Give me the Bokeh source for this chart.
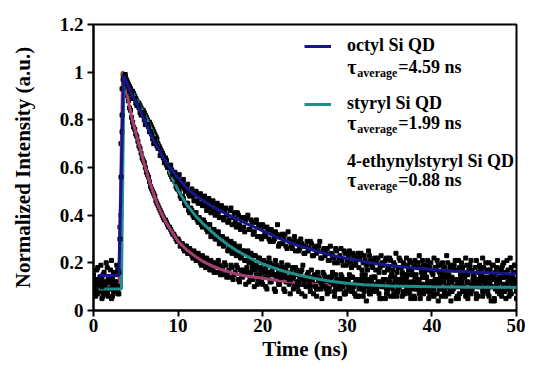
import numpy as np
from bokeh.plotting import figure
from bokeh.models import Range1d, FixedTicker, CustomJSTickFormatter, Legend, LegendItem, Label
from bokeh.embed import file_html
from bokeh.resources import INLINE

# ---------------- data ----------------
time_a = np.linspace(0, 50, 201)        # sampling grid, 0.25 ns
time_b = np.linspace(0.125, 49.875, 200)  # interleaved samples

octyl_data_a = [
    0.15, 0.12, 0.18, 0.14, 0.10, 0.16, 0.20, 0.13, 0.17, 0.11, 0.15, 0.19,
    0.16, 0.56, 0.97, 0.99, 0.95, 0.92, 0.91, 0.89, 0.87, 0.86, 0.83, 0.83,
    0.80, 0.78, 0.77, 0.75, 0.72, 0.72, 0.69, 0.68, 0.66, 0.64, 0.64, 0.61,
    0.60, 0.59, 0.57, 0.56, 0.56, 0.53, 0.54, 0.51, 0.52, 0.49, 0.50, 0.48,
    0.49, 0.46, 0.48, 0.45, 0.47, 0.44, 0.46, 0.43, 0.45, 0.42, 0.44, 0.41,
    0.43, 0.39, 0.42, 0.40, 0.38, 0.43, 0.39, 0.37, 0.41, 0.36, 0.39, 0.35,
    0.38, 0.40, 0.34, 0.37, 0.33, 0.38, 0.35, 0.31, 0.36, 0.32, 0.35, 0.30,
    0.34, 0.29, 0.33, 0.36, 0.28, 0.32, 0.30, 0.27, 0.33, 0.29, 0.26, 0.31,
    0.28, 0.25, 0.30, 0.27, 0.24, 0.29, 0.26, 0.28, 0.23, 0.27, 0.25, 0.29,
    0.22, 0.26, 0.24, 0.21, 0.27, 0.23, 0.20, 0.25, 0.22, 0.26, 0.19, 0.24,
    0.21, 0.25, 0.18, 0.23, 0.20, 0.24, 0.22, 0.17, 0.23, 0.19, 0.25, 0.21,
    0.18, 0.22, 0.20, 0.16, 0.23, 0.19, 0.21, 0.17, 0.22, 0.15, 0.20, 0.24,
    0.18, 0.21, 0.16, 0.19, 0.22, 0.17, 0.20, 0.15, 0.21, 0.18, 0.23, 0.16,
    0.19, 0.14, 0.21, 0.18, 0.16, 0.22, 0.17, 0.19, 0.14, 0.20, 0.18, 0.23,
    0.15, 0.19, 0.17, 0.21, 0.13, 0.18, 0.20, 0.16, 0.22, 0.15, 0.19, 0.17,
    0.14, 0.21, 0.16, 0.18, 0.22, 0.13, 0.17, 0.20, 0.15, 0.19, 0.16, 0.21,
    0.14, 0.18, 0.20, 0.15, 0.17, 0.22, 0.14, 0.19, 0.16,
]
octyl_data_b = [
    0.13, 0.17, 0.11, 0.19, 0.15, 0.12, 0.18, 0.14, 0.21, 0.16,
    0.12, 0.17, 0.30, 0.82, 0.98, 0.96, 0.94, 0.93, 0.89, 0.89,
    0.86, 0.85, 0.82, 0.82, 0.78, 0.78, 0.75, 0.74, 0.70, 0.70,
    0.68, 0.65, 0.66, 0.62, 0.63, 0.60, 0.61, 0.57, 0.58, 0.54,
    0.57, 0.52, 0.55, 0.50, 0.53, 0.48, 0.51, 0.46, 0.50, 0.45,
    0.49, 0.44, 0.48, 0.42, 0.47, 0.41, 0.46, 0.40, 0.45, 0.39,
    0.44, 0.38, 0.43, 0.37, 0.42, 0.36, 0.41, 0.35, 0.40, 0.34,
    0.39, 0.33, 0.39, 0.34, 0.38, 0.32, 0.37, 0.31, 0.36, 0.30,
    0.35, 0.31, 0.34, 0.29, 0.33, 0.30, 0.32, 0.27, 0.31, 0.28,
    0.32, 0.26, 0.30, 0.27, 0.29, 0.25, 0.29, 0.26, 0.28, 0.24,
    0.27, 0.25, 0.29, 0.23, 0.26, 0.24, 0.27, 0.22, 0.25, 0.23,
    0.26, 0.21, 0.24, 0.22, 0.26, 0.20, 0.23, 0.21, 0.25, 0.19,
    0.23, 0.20, 0.24, 0.19, 0.22, 0.18, 0.24, 0.20, 0.21, 0.17,
    0.23, 0.19, 0.21, 0.17, 0.22, 0.18, 0.20, 0.16, 0.22, 0.18,
    0.21, 0.17, 0.19, 0.16, 0.22, 0.18, 0.20, 0.15, 0.19, 0.21,
    0.17, 0.19, 0.15, 0.20, 0.18, 0.21, 0.16, 0.19, 0.17, 0.20,
    0.15, 0.18, 0.21, 0.16, 0.19, 0.17, 0.15, 0.20, 0.18, 0.14,
    0.19, 0.17, 0.21, 0.15, 0.18, 0.14, 0.19, 0.17, 0.21, 0.15,
    0.18, 0.13, 0.19, 0.16, 0.18, 0.20, 0.14, 0.17, 0.19, 0.15,
    0.18, 0.13, 0.17, 0.19, 0.16, 0.21, 0.14, 0.18, 0.16, 0.19,
]

styryl_data_a = [
    0.09, 0.06, 0.12, 0.08, 0.05, 0.11, 0.07, 0.13, 0.09, 0.06, 0.10, 0.08,
    0.07, 0.40, 0.93, 0.98, 0.96, 0.94, 0.92, 0.91, 0.89, 0.87, 0.86, 0.84,
    0.83, 0.81, 0.79, 0.78, 0.76, 0.74, 0.72, 0.69, 0.67, 0.65, 0.63, 0.60,
    0.58, 0.56, 0.55, 0.52, 0.51, 0.48, 0.48, 0.45, 0.45, 0.42, 0.43, 0.40,
    0.41, 0.38, 0.39, 0.36, 0.38, 0.35, 0.33, 0.36, 0.32, 0.34, 0.30, 0.33,
    0.29, 0.31, 0.28, 0.30, 0.26, 0.29, 0.25, 0.27, 0.24, 0.27, 0.23, 0.25,
    0.21, 0.25, 0.22, 0.20, 0.23, 0.19, 0.22, 0.18, 0.21, 0.17, 0.20, 0.22,
    0.16, 0.19, 0.21, 0.15, 0.18, 0.20, 0.14, 0.17, 0.19, 0.13, 0.18, 0.15,
    0.17, 0.12, 0.16, 0.19, 0.13, 0.15, 0.11, 0.17, 0.14, 0.10, 0.16, 0.13,
    0.11, 0.15, 0.09, 0.14, 0.12, 0.16, 0.08, 0.13, 0.11, 0.15, 0.10, 0.07,
    0.13, 0.09, 0.14, 0.11, 0.06, 0.12, 0.10, 0.15, 0.08, 0.11, 0.13, 0.07,
    0.10, 0.14, 0.09, 0.12, 0.05, 0.11, 0.13, 0.08, 0.10, 0.15, 0.07, 0.12,
    0.09, 0.13, 0.06, 0.11, 0.14, 0.08, 0.10, 0.12, 0.05, 0.09, 0.13, 0.11,
    0.07, 0.14, 0.10, 0.08, 0.12, 0.06, 0.11, 0.13, 0.09, 0.15, 0.07, 0.10,
    0.12, 0.04, 0.09, 0.13, 0.11, 0.07, 0.14, 0.10, 0.06, 0.12, 0.09, 0.11,
    0.13, 0.05, 0.10, 0.14, 0.08, 0.11, 0.12, 0.06, 0.10, 0.13, 0.09, 0.11,
    0.07, 0.14, 0.10, 0.05, 0.12, 0.09, 0.11, 0.13, 0.08,
]
styryl_data_b = [
    0.11, 0.07, 0.09, 0.13, 0.06, 0.10, 0.08, 0.12, 0.05, 0.09,
    0.11, 0.07, 0.10, 0.75, 0.97, 0.97, 0.95, 0.93, 0.92, 0.90,
    0.88, 0.87, 0.85, 0.84, 0.82, 0.80, 0.79, 0.77, 0.75, 0.73,
    0.70, 0.68, 0.66, 0.64, 0.61, 0.60, 0.57, 0.55, 0.54, 0.51,
    0.50, 0.47, 0.47, 0.44, 0.45, 0.41, 0.42, 0.39, 0.41, 0.37,
    0.38, 0.35, 0.37, 0.34, 0.36, 0.31, 0.34, 0.30, 0.32, 0.28,
    0.31, 0.27, 0.29, 0.25, 0.28, 0.24, 0.28, 0.23, 0.26, 0.22,
    0.25, 0.21, 0.24, 0.20, 0.24, 0.19, 0.23, 0.18, 0.22, 0.17,
    0.21, 0.18, 0.16, 0.20, 0.17, 0.15, 0.19, 0.16, 0.14, 0.18,
    0.15, 0.19, 0.13, 0.16, 0.14, 0.18, 0.12, 0.15, 0.17, 0.11,
    0.14, 0.16, 0.10, 0.13, 0.15, 0.09, 0.14, 0.12, 0.16, 0.10,
    0.13, 0.08, 0.14, 0.11, 0.15, 0.09, 0.12, 0.14, 0.07, 0.12,
    0.10, 0.14, 0.08, 0.11, 0.13, 0.06, 0.12, 0.09, 0.15, 0.10,
    0.07, 0.12, 0.14, 0.08, 0.11, 0.05, 0.10, 0.13, 0.09, 0.12,
    0.06, 0.11, 0.14, 0.08, 0.10, 0.12, 0.07, 0.13, 0.09, 0.11,
    0.15, 0.06, 0.10, 0.12, 0.08, 0.14, 0.09, 0.11, 0.05, 0.12,
    0.10, 0.13, 0.07, 0.11, 0.09, 0.14, 0.06, 0.10, 0.12, 0.08,
    0.13, 0.10, 0.05, 0.11, 0.14, 0.08, 0.12, 0.09, 0.07, 0.13,
    0.11, 0.06, 0.10, 0.15, 0.08, 0.12, 0.09, 0.11, 0.13, 0.04,
    0.10, 0.12, 0.08, 0.14, 0.09, 0.11, 0.06, 0.13, 0.10, 0.12,
]

ethynyl_data_a = [
    0.10, 0.13, 0.07, 0.11, 0.14, 0.08, 0.12, 0.06, 0.10, 0.13, 0.09, 0.11,
    0.12, 0.70, 0.99, 0.95, 0.90, 0.85, 0.81, 0.77, 0.74, 0.71, 0.68, 0.64,
    0.62, 0.58, 0.56, 0.52, 0.50, 0.48, 0.45, 0.43, 0.41, 0.39, 0.38, 0.36,
    0.35, 0.33, 0.32, 0.30, 0.30, 0.27, 0.28, 0.25, 0.27, 0.24, 0.25, 0.22,
    0.24, 0.21, 0.23, 0.19, 0.22, 0.18, 0.21, 0.17, 0.20, 0.16, 0.19, 0.21,
    0.15, 0.18, 0.20, 0.14, 0.17, 0.19, 0.13, 0.16, 0.18, 0.12, 0.15, 0.17,
    0.11, 0.16, 0.14, 0.18, 0.10, 0.15, 0.13, 0.17, 0.11, 0.14, 0.09, 0.16,
    0.12, 0.15, 0.08, 0.13, 0.11, 0.16, 0.09, 0.12, 0.14, 0.07, 0.12, 0.10,
    0.15, 0.08, 0.11, 0.13, 0.06,
    0.12, 0.10, 0.14, 0.07, 0.11, 0.09, 0.13, 0.05, 0.10, 0.12,
    0.08, 0.14, 0.11, 0.06, 0.10, 0.13, 0.09, 0.12, 0.07, 0.11,
    0.15, 0.08, 0.10, 0.12, 0.06, 0.11, 0.09, 0.13, 0.04, 0.10,
    0.12, 0.08, 0.14, 0.10, 0.07, 0.11, 0.13, 0.05, 0.09, 0.12,
    0.10, 0.06, 0.13, 0.08, 0.11, 0.15, 0.07, 0.10, 0.12, 0.05,
    0.09, 0.13, 0.11, 0.07, 0.10, 0.14, 0.08, 0.12, 0.06, 0.11,
    0.09, 0.13, 0.04, 0.10, 0.12, 0.08, 0.14, 0.07, 0.11, 0.09,
    0.13, 0.06, 0.10, 0.12, 0.08, 0.15, 0.05, 0.11, 0.09, 0.13,
    0.07, 0.10, 0.12, 0.06, 0.14, 0.09, 0.11, 0.04, 0.10, 0.13,
    0.08, 0.12, 0.06, 0.11, 0.14, 0.09, 0.07, 0.12, 0.10, 0.05,
]
ethynyl_data_b = [
    0.08, 0.12, 0.10, 0.14, 0.09, 0.11, 0.07, 0.13, 0.10, 0.08,
    0.12, 0.09, 0.35, 0.93, 0.97, 0.93, 0.88, 0.84, 0.79, 0.76,
    0.73, 0.69, 0.66, 0.63, 0.60, 0.57, 0.54, 0.51, 0.49, 0.46,
    0.44, 0.42, 0.40, 0.38, 0.37, 0.35, 0.34, 0.32, 0.31, 0.29,
    0.29, 0.28, 0.26, 0.27, 0.24, 0.26, 0.23, 0.25, 0.21, 0.24,
    0.20, 0.23, 0.19, 0.22, 0.18, 0.21, 0.17, 0.20, 0.16, 0.19,
    0.17, 0.15, 0.19, 0.16, 0.14, 0.18, 0.15, 0.19, 0.13, 0.17,
    0.14, 0.16, 0.18, 0.12, 0.16, 0.13, 0.17, 0.11, 0.15, 0.12,
    0.16, 0.10, 0.14, 0.12, 0.15, 0.09, 0.14, 0.11, 0.13, 0.15,
    0.08, 0.13, 0.11, 0.14, 0.09, 0.12, 0.10, 0.14, 0.07, 0.12,
    0.10, 0.13, 0.08, 0.11, 0.14, 0.06, 0.12, 0.09, 0.11, 0.13,
    0.07, 0.10, 0.12, 0.15, 0.09, 0.11, 0.05, 0.10, 0.13, 0.08,
    0.12, 0.10, 0.14, 0.07, 0.11, 0.09, 0.13, 0.06, 0.12, 0.10,
    0.08, 0.14, 0.11, 0.09, 0.12, 0.05, 0.10, 0.13, 0.07, 0.11,
    0.14, 0.09, 0.12, 0.06, 0.10, 0.13, 0.08, 0.11, 0.15, 0.07,
    0.10, 0.12, 0.09, 0.13, 0.05, 0.11, 0.08, 0.14, 0.10, 0.12,
    0.07, 0.11, 0.13, 0.09, 0.06, 0.12, 0.10, 0.14, 0.08, 0.11,
    0.13, 0.05, 0.10, 0.12, 0.09, 0.15, 0.07, 0.11, 0.08, 0.13,
    0.10, 0.06, 0.12, 0.14, 0.09, 0.11, 0.07, 0.13, 0.10, 0.05,
    0.12, 0.09, 0.11, 0.14, 0.08, 0.10, 0.13, 0.07, 0.11, 0.12,
]

octyl_fit_t = [0.6, 3.0, 3.55, 4.0, 4.5, 5.0, 5.5, 6.0, 7.0, 8.0, 9.0, 10.0, 11.0,
               12.0, 13.0, 14.0, 15.0, 16.0, 17.0, 18.0, 19.0, 20.0, 22.0, 24.0,
               26.0, 28.0, 30.0, 32.0, 34.0, 36.0, 38.0, 40.0, 42.5, 45.0, 47.5, 50.0]
octyl_fit_y = [0.147, 0.147, 0.985, 0.95, 0.91, 0.875, 0.84, 0.80, 0.72, 0.655, 0.60,
               0.555, 0.515, 0.485, 0.46, 0.438, 0.418, 0.40, 0.383, 0.366, 0.35,
               0.334, 0.302, 0.275, 0.253, 0.233, 0.218, 0.205, 0.194, 0.185,
               0.178, 0.172, 0.166, 0.161, 0.157, 0.153]

styryl_fit_t = [0.6, 3.3, 3.6, 4.0, 5.0, 6.0, 7.0, 8.0, 9.0, 10.0, 11.0, 12.0, 13.0,
                14.0, 15.0, 16.0, 17.0, 18.0, 19.0, 20.0, 22.0, 24.0, 26.0, 28.0,
                30.0, 32.0, 35.0, 40.0, 45.0, 50.0]
styryl_fit_y = [0.09, 0.09, 0.98, 0.955, 0.89, 0.825, 0.75, 0.665, 0.58, 0.505, 0.445,
                0.40, 0.362, 0.33, 0.30, 0.273, 0.25, 0.23, 0.211, 0.195, 0.17,
                0.151, 0.135, 0.123, 0.114, 0.108, 0.103, 0.10, 0.098, 0.097]

ethynyl_fit_t = [0.6, 3.0, 3.45, 4.0, 4.5, 5.0, 5.5, 6.0, 6.5, 7.0, 7.5, 8.0, 8.5, 9.0,
                 10.0, 11.0, 12.0, 13.0, 14.0, 15.0, 16.0, 17.0, 18.0, 20.0, 22.0,
                 24.0, 26.0, 28.0, 30.0, 35.0, 40.0, 50.0]
ethynyl_fit_y = [0.10, 0.10, 1.005, 0.90, 0.815, 0.745, 0.68, 0.615, 0.555, 0.50, 0.45,
                 0.41, 0.375, 0.345, 0.29, 0.255, 0.228, 0.205, 0.187, 0.173, 0.162,
                 0.152, 0.145, 0.135, 0.125, 0.117, 0.111, 0.108, 0.106, 0.104,
                 0.103, 0.102]

series_names = ["octyl Si QD", "styryl Si QD", "4-ethynylstyryl Si QD"]
tau_values = ["=4.59 ns", "=1.99 ns", "=0.88 ns"]
x_ticks = [0, 10, 20, 30, 40, 50]
y_ticks = [0, 0.2, 0.4, 0.6, 0.8, 1.0, 1.2]

# ---------------- styling ----------------
FONT = "Liberation Serif"
NAVY = "#16168a"
TEAL = "#1f8e8c"
PINK = "#a63e72"
DARKRED = "#8a1010"
DOT = 4

p = figure(width=525, height=363, x_range=Range1d(0, 50), y_range=Range1d(0, 1.2),
           output_backend="svg", toolbar_location=None,
           min_border_left=93, min_border_right=9, min_border_top=24, min_border_bottom=50)
p.background_fill_color = "white"
p.border_fill_color = "white"
p.outline_line_color = "black"
p.outline_line_width = 2
p.xgrid.visible = False
p.ygrid.visible = False

for ax in (p.xaxis[0], p.yaxis[0]):
    ax.axis_line_width = 2
    ax.major_tick_line_width = 2
    ax.major_tick_out = 6
    ax.major_tick_in = 0
    ax.minor_tick_out = 0
    ax.minor_tick_in = 0
    ax.major_label_text_font = FONT
    ax.major_label_text_font_style = "bold"
    ax.major_label_text_font_size = "19px"
    ax.major_label_text_color = "black"
    ax.axis_label_text_font = FONT
    ax.axis_label_text_font_style = "bold"
    ax.axis_label_text_font_size = "21px"
    ax.axis_label_text_color = "black"

p.xaxis.ticker = FixedTicker(ticks=x_ticks)
p.yaxis.ticker = FixedTicker(ticks=y_ticks)
p.yaxis.formatter = CustomJSTickFormatter(code="return String(Math.round(tick*10)/10)")
p.xaxis.axis_label = "Time (ns)"
p.yaxis.axis_label = "Normalized Intensity (a.u.)"
p.xaxis.major_label_standoff = 2
p.yaxis.major_label_standoff = 4
p.xaxis.axis_label_standoff = 2
p.yaxis.axis_label_standoff = 22

# draw order: ethynyl data, its fit, styryl data, its fit, octyl data, its fit
p.scatter(time_a, ethynyl_data_a, marker="square", size=DOT, color="black")
p.scatter(time_b, ethynyl_data_b, marker="square", size=DOT, color="black")
p.line(ethynyl_fit_t, ethynyl_fit_y, line_color=PINK, line_width=3)
p.scatter(time_a, styryl_data_a, marker="square", size=DOT, color="black")
p.scatter(time_b, styryl_data_b, marker="square", size=DOT, color="black")
r_teal = p.line(styryl_fit_t, styryl_fit_y, line_color=TEAL, line_width=3)
p.scatter(time_a, octyl_data_a, marker="square", size=DOT, color="black")
p.scatter(time_b, octyl_data_b, marker="square", size=DOT, color="black")
r_navy = p.line(octyl_fit_t, octyl_fit_y, line_color=NAVY, line_width=3)
r_red = p.line([], [], line_color=DARKRED, line_width=3)

legend = Legend(items=[LegendItem(label=series_names[0], renderers=[r_navy]),
                       LegendItem(label=series_names[1], renderers=[r_teal]),
                       LegendItem(label=series_names[2], renderers=[r_red])],
                location=(211, 138), orientation="vertical",
                glyph_width=27, glyph_height=20, label_height=20, label_standoff=16,
                spacing=37, padding=0, margin=0,
                border_line_alpha=0, background_fill_alpha=0,
                label_text_font=FONT, label_text_font_style="bold",
                label_text_font_size="18px", label_text_color="black")
p.add_layout(legend)

tau_y = [1.022, 0.786, 0.549]
for yy, tv in zip(tau_y, tau_values):
    p.add_layout(Label(x=30.0, y=yy, text="τ", text_font=FONT, text_font_style="bold",
                       text_font_size="20px", text_baseline="middle", text_color="black"))
    p.add_layout(Label(x=30.0, y=yy, x_offset=10, y_offset=-6, text="average", text_font=FONT,
                       text_font_style="bold", text_font_size="12px",
                       text_baseline="middle", text_color="black"))
    p.add_layout(Label(x=30.0, y=yy, x_offset=51, text=tv, text_font=FONT,
                       text_font_style="bold", text_font_size="18px",
                       text_baseline="middle", text_color="black"))

open("out.html", "w").write(file_html(p, INLINE))
